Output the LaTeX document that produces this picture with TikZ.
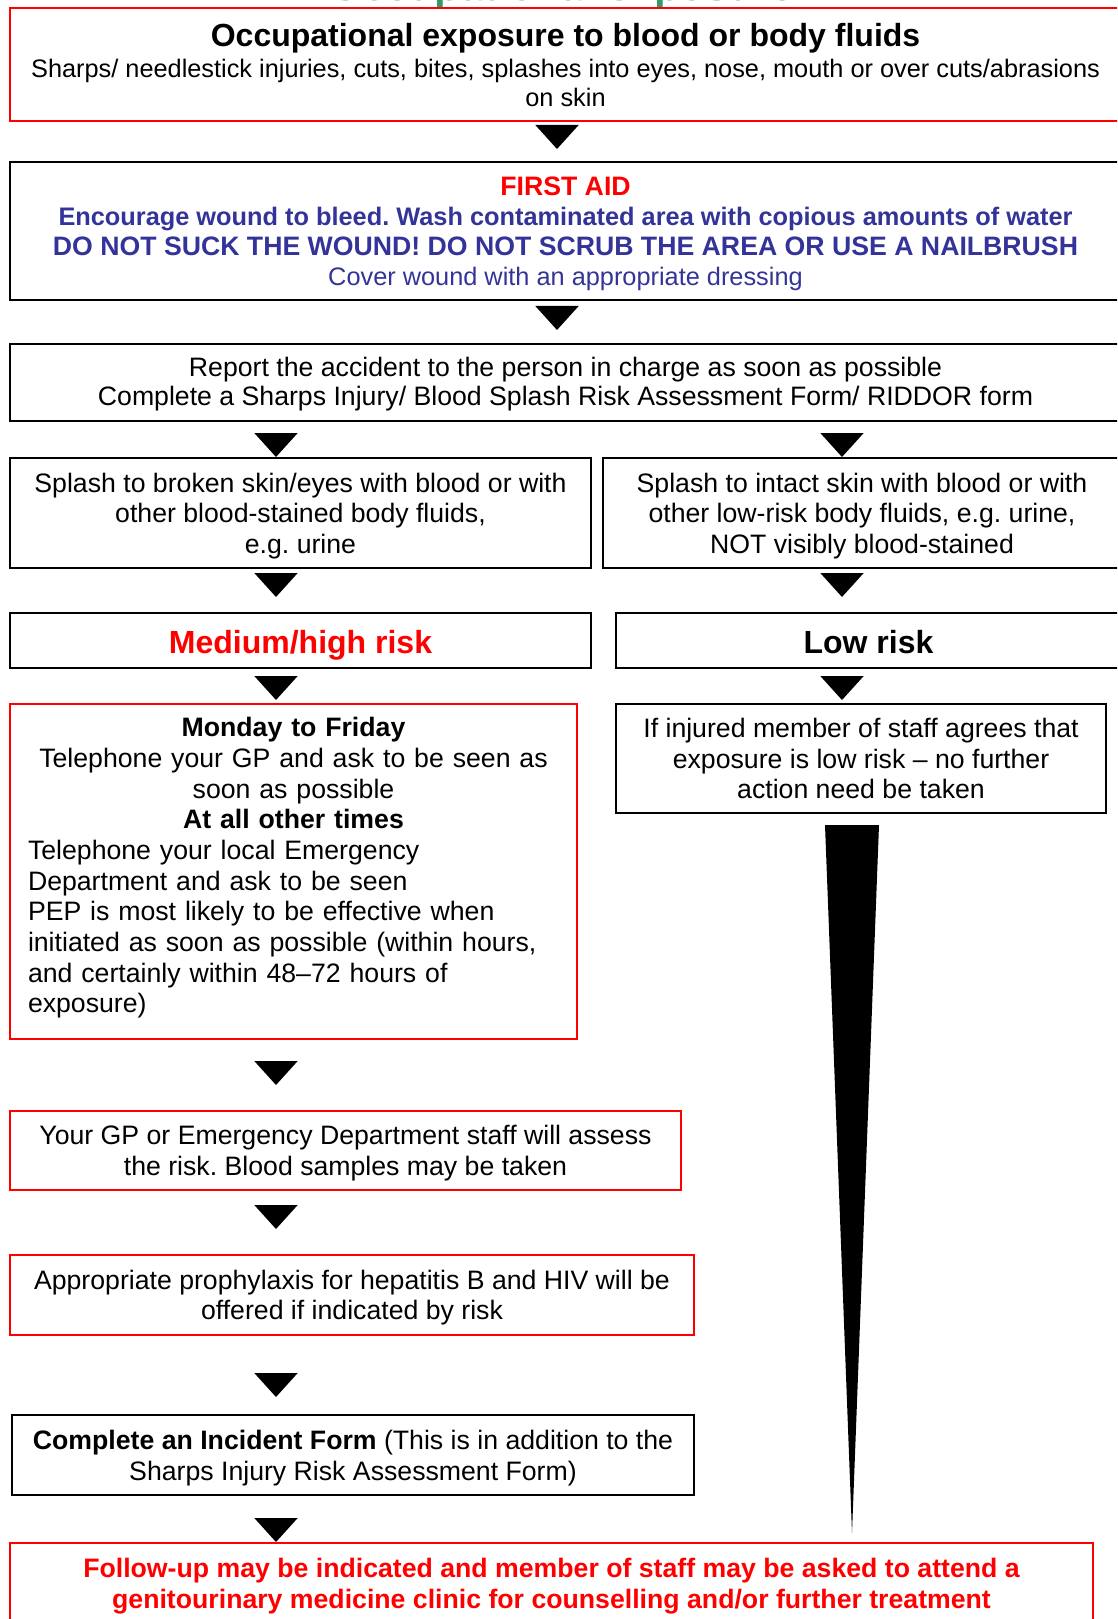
\documentclass[tikz,border=0pt]{standalone}
\usepackage{fontspec}
\setmainfont{Liberation Sans}
\usetikzlibrary{arrows.meta,calc}
\definecolor{aidblue}{RGB}{51,51,153}
\definecolor{headgreen}{RGB}{51,153,102}
\frenchspacing
\newcommand{\pxu}{0.45pt}
\newcommand{\fsz}[2]{\fontsize{#1}{#2}\selectfont}
\newcommand{\lift}[1]{\rule{0pt}{#1}}
\tikzstyle{box}=[draw, line width=0.9pt, inner sep=0pt, align=center, anchor=north west, font=\fsz{12}{13.8}]
\tikzstyle{redbox}=[box, draw=red]
\tikzstyle{flow}=[line width=0.9pt, -{Triangle[width=19.35pt,length=10.8pt]}]
\tikzstyle{wedge}=[fill=black]

\begin{document}
\begin{tikzpicture}[x=\pxu, y=-\pxu]
    \path[use as bounding box, clip] (0,0) rectangle (1117,1619);

    % heading, cut by the top edge of the page
    \node[anchor=base, inner sep=0pt, text=headgreen, font=\fsz{18.9}{20}\bfseries] (head) at (562,0.5) {Occupational exposure};

    \node[redbox, minimum width=1111*\pxu, minimum height=113*\pxu, font=\fsz{11.4}{13}] (top) at (9,7)
        {{\fsz{14.4}{16}\bfseries\lift{10.9pt}Occupational exposure to blood or body fluids}\\[1pt]
         Sharps/ needlestick injuries, cuts, bites, splashes into eyes, nose, mouth or over cuts/abrasions\\
         on skin};

    \node[box, minimum width=1111*\pxu, minimum height=138*\pxu, font=\fsz{12}{13.5}\bfseries, text=aidblue] (aid) at (9,161)
        {\lift{10.95pt}\textcolor{red}{FIRST AID}\\
         {\fsz{11.4}{13.5}Encourage wound to bleed. Wash contaminated area with copious amounts of water}\\
         DO NOT SUCK THE WOUND! DO NOT SCRUB THE AREA OR USE A NAILBRUSH\\
         {\fsz{11.4}{13.5}\mdseries Cover wound with an appropriate dressing}};

    \node[box, minimum width=1111*\pxu, minimum height=77*\pxu, font=\fsz{12}{13.3}] (report) at (9,343)
        {\lift{10pt}Report the accident to the person in charge as soon as possible\\
         Complete a Sharps Injury/ Blood Splash Risk Assessment Form/ RIDDOR form};

    \node[box, minimum width=581*\pxu, minimum height=110*\pxu] (splashL) at (9,457)
        {\lift{11.4pt}Splash to broken skin/eyes with blood or with\\ other blood-stained body fluids,\\ e.g. urine};
    \node[box, minimum width=518*\pxu, minimum height=110*\pxu] (splashR) at (602,457)
        {\lift{11.4pt}Splash to intact skin with blood or with\\ other low-risk body fluids, e.g. urine,\\ NOT visibly blood-stained};

    \node[box, minimum width=581*\pxu, minimum height=55*\pxu, text height=11.3pt, text depth=0pt, font=\fsz{14.4}{16}\bfseries, text=red] (medium) at (9,612) {Medium/high risk};
    \node[box, minimum width=505*\pxu, minimum height=55*\pxu, text height=11.3pt, text depth=0pt, font=\fsz{14.4}{16}\bfseries] (low) at (615,612) {Low risk};

    \node[redbox, minimum width=567*\pxu, minimum height=335*\pxu, text width=531*\pxu] (monfri) at (9,703)
        {\textbf{Monday to Friday}\\ Telephone your GP and ask to be seen as\\ soon as possible\\ \textbf{At all other times}\par
         \raggedright\noindent Telephone your local Emergency\\ Department and ask to be seen\\
         PEP is most likely to be effective when\\ initiated as soon as possible (within hours,\\
         and certainly within 48\textendash72 hours of\\ exposure)\rule[-5.6pt]{0pt}{1pt}\par};
    \node[box, minimum width=490*\pxu, minimum height=109*\pxu, font=\fsz{12}{13.7}] (lowact) at (615,703)
        {If injured member of staff agrees that\\ exposure is low risk \textendash\ no further\\ action need be taken};

    \node[redbox, minimum width=671*\pxu, minimum height=79*\pxu] (assess) at (9,1110)
        {\lift{10.95pt}Your GP or Emergency Department staff will assess\\ the risk. Blood samples may be taken};
    \node[redbox, minimum width=684*\pxu, minimum height=80*\pxu] (proph) at (9,1254)
        {\lift{10.95pt}Appropriate prophylaxis for hepatitis B and HIV will be\\ offered if indicated by risk};
    \node[box, minimum width=682*\pxu, minimum height=80*\pxu] (incident) at (11,1414)
        {\lift{11.4pt}\textbf{Complete an Incident Form} (This is in addition to the\\ Sharps Injury Risk Assessment Form)};
    \node[redbox, minimum width=1083*\pxu, minimum height=84*\pxu, font=\fsz{12}{13.9}\bfseries, text=red] (follow) at (9,1542)
        {\lift{9.5pt}Follow-up may be indicated and member of staff may be asked to attend a\\ genitourinary medicine clinic for counselling and/or further treatment};

    % columns for the arrows
    \coordinate (c) at (557,0);
    \coordinate (l) at (276,0);
    \coordinate (r) at (842,0);
    \coordinate (w) at (852,0);

    \foreach \src/\dst/\col/\sa/\sb in {top/aid/c/5/12, aid/report/c/7/13,
            report/splashL/l/13/0, report/splashR/r/13/0,
            splashL/medium/l/6/15, splashR/low/r/6/15,
            medium/monfri/l/9/3, low/lowact/r/9/3,
            monfri/assess/l/23/25, assess/proph/l/16/25,
            proph/incident/l/39/17, incident/follow/l/24/0}
        \draw[flow, shorten <=\sa*\pxu, shorten >=\sb*\pxu] (\src.south -| \col) -- (\dst.north -| \col);

    % long pointer from low risk down to the follow-up box
    \fill[wedge] ($(lowact.south -| w)+(-27,11)$) -- ($(lowact.south -| w)+(27,11)$) -- ($(follow.north -| w)+(0,-9)$) -- cycle;
\end{tikzpicture}
\end{document}
